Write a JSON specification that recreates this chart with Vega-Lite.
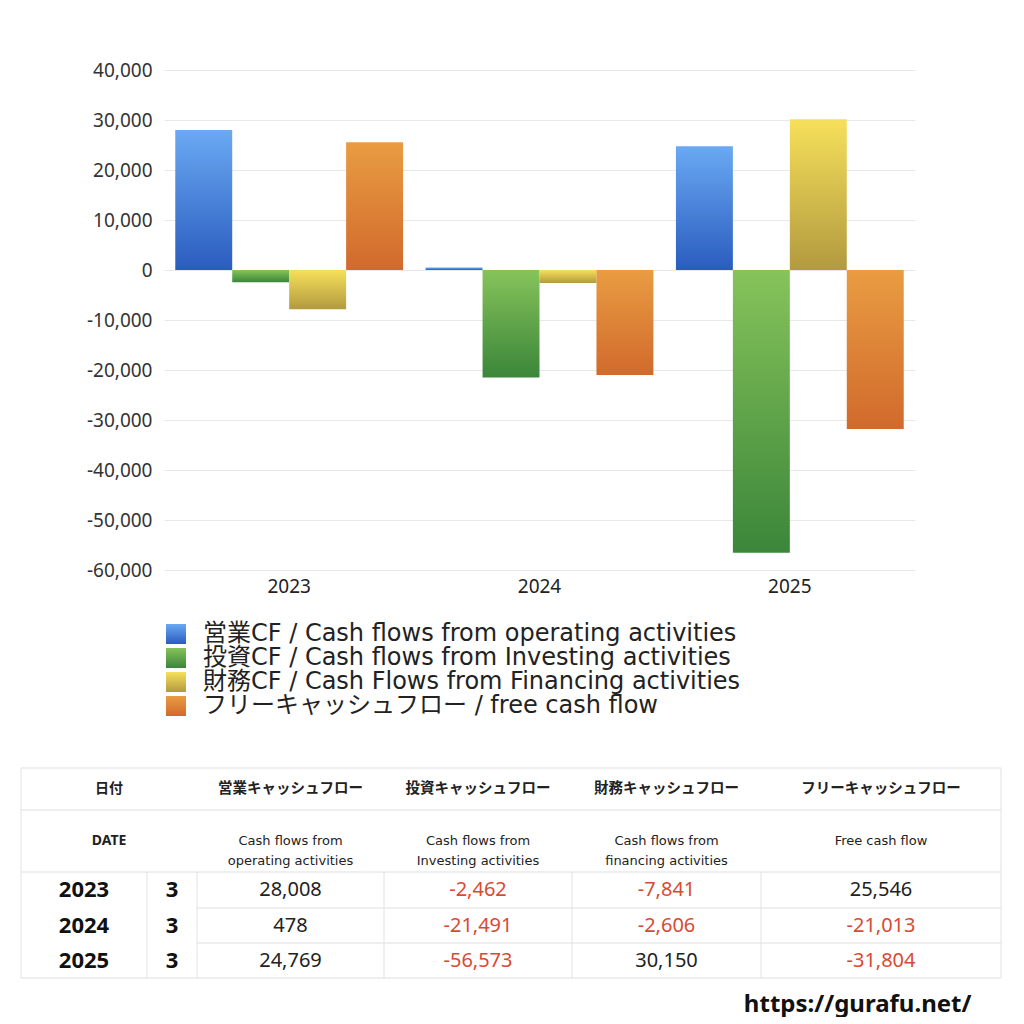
{
  "$schema": "https://vega.github.io/schema/vega-lite/v6.json",
  "padding": {"left": 20, "top": 60, "right": 0, "bottom": 0},
  "background": "#ffffff",
  "spacing": 24,
  "config": {
    "font": "Noto Sans, Noto Sans CJK JP",
    "view": {"stroke": "transparent"},
    "locale": {"number": {"decimal": ".", "thousands": ",", "grouping": [3], "currency": ["$", ""], "minus": "-"}}
  },
  "datasets": {
    "cf": [
      {"year": "2023", "k": "op", "v": 28008},
      {"year": "2023", "k": "inv", "v": -2462},
      {"year": "2023", "k": "fin", "v": -7841},
      {"year": "2023", "k": "free", "v": 25546},
      {"year": "2024", "k": "op", "v": 478},
      {"year": "2024", "k": "inv", "v": -21491},
      {"year": "2024", "k": "fin", "v": -2606},
      {"year": "2024", "k": "free", "v": -21013},
      {"year": "2025", "k": "op", "v": 24769},
      {"year": "2025", "k": "inv", "v": -56573},
      {"year": "2025", "k": "fin", "v": 30150},
      {"year": "2025", "k": "free", "v": -31804}
    ],
    "keys": [
      {"k": "op", "label": "営業CF / Cash flows from operating activities"},
      {"k": "inv", "label": "投資CF / Cash flows from Investing activities"},
      {"k": "fin", "label": "財務CF / Cash Flows from Financing activities"},
      {"k": "free", "label": "フリーキャッシュフロー / free cash flow"}
    ],
    "cells": [
      {"r": 0, "c": 0, "t": "日付", "kind": "span"},
      {"r": 1, "c": 0, "t": "DATE", "kind": "span"},
      {"r": 0, "c": 2, "t": "営業キャッシュフロー", "kind": "hdr"},
      {"r": 0, "c": 3, "t": "投資キャッシュフロー", "kind": "hdr"},
      {"r": 0, "c": 4, "t": "財務キャッシュフロー", "kind": "hdr"},
      {"r": 0, "c": 5, "t": "フリーキャッシュフロー", "kind": "hdr"},
      {"r": 1, "c": 2, "t": ["Cash flows from", "operating activities"], "kind": "sub"},
      {"r": 1, "c": 3, "t": ["Cash flows from", "Investing activities"], "kind": "sub"},
      {"r": 1, "c": 4, "t": ["Cash flows from", "financing activities"], "kind": "sub"},
      {"r": 1, "c": 5, "t": "Free cash flow", "kind": "sub"},
      {"r": 2, "c": 0, "t": "2023", "kind": "yr"},
      {"r": 3, "c": 0, "t": "2024", "kind": "yr"},
      {"r": 4, "c": 0, "t": "2025", "kind": "yr"},
      {"r": 2, "c": 1, "t": "3", "kind": "yr"},
      {"r": 3, "c": 1, "t": "3", "kind": "yr"},
      {"r": 4, "c": 1, "t": "3", "kind": "yr"}
    ],
    "vals": [
      {"r": 2, "c": 2, "v": 28008},
      {"r": 2, "c": 3, "v": -2462},
      {"r": 2, "c": 4, "v": -7841},
      {"r": 2, "c": 5, "v": 25546},
      {"r": 3, "c": 2, "v": 478},
      {"r": 3, "c": 3, "v": -21491},
      {"r": 3, "c": 4, "v": -2606},
      {"r": 3, "c": 5, "v": -21013},
      {"r": 4, "c": 2, "v": 24769},
      {"r": 4, "c": 3, "v": -56573},
      {"r": 4, "c": 4, "v": 30150},
      {"r": 4, "c": 5, "v": -31804}
    ],
    "hlines": [
      {"r": -0.5, "c": -0.5, "c2": 5.5},
      {"r": 0.5, "c": -0.5, "c2": 5.5},
      {"r": 1.5, "c": -0.5, "c2": 5.5},
      {"r": 2.5, "c": 1.5, "c2": 5.5},
      {"r": 3.5, "c": 1.5, "c2": 5.5},
      {"r": 4.5, "c": -0.5, "c2": 5.5}
    ],
    "vlines": [
      {"c": -0.5, "r": -0.5, "r2": 4.5},
      {"c": 0.5, "r": 1.5, "r2": 4.5},
      {"c": 1.5, "r": 1.5, "r2": 4.5},
      {"c": 2.5, "r": 1.5, "r2": 4.5},
      {"c": 3.5, "r": 1.5, "r2": 4.5},
      {"c": 4.5, "r": 1.5, "r2": 4.5},
      {"c": 5.5, "r": -0.5, "r2": 4.5}
    ]
  },
  "vconcat": [
    {
      "width": 751,
      "height": 500,
      "data": {"name": "cf"},
      "encoding": {
        "x": {
          "field": "year", "type": "nominal", "title": null,
          "scale": {"paddingInner": 0.09, "paddingOuter": 0.045},
          "axis": {"labelAngle": 0, "labelFontSize": 19, "labelColor": "#222", "labelPadding": 7, "ticks": false, "domain": false}
        },
        "xOffset": {"field": "k", "type": "nominal", "scale": {"domain": ["op", "inv", "fin", "free"], "paddingInner": 0, "paddingOuter": 0}},
        "y": {
          "field": "v", "type": "quantitative", "title": null,
          "scale": {"domain": [-60000, 40000], "nice": false},
          "axis": {"values": [-60000, -50000, -40000, -30000, -20000, -10000, 0, 10000, 20000, 30000, 40000], "labelOverlap": false, "format": ",d", "labelFontSize": 19, "labelColor": "#333", "labelPadding": 12, "ticks": false, "domain": false, "gridColor": "#e8e8e8", "minExtent": 143, "maxExtent": 143}
        }
      },
      "layer": [
        {
          "transform": [{"filter": "datum.k === 'op'"}],
          "mark": {"type": "bar", "color": {"gradient": "linear", "x1": 0, "y1": 0, "x2": 0, "y2": 1, "stops": [{"offset": 0, "color": "#6aa9f3"}, {"offset": 1, "color": "#2a5cbe"}]}}
        },
        {
          "transform": [{"filter": "datum.k === 'inv'"}],
          "mark": {"type": "bar", "color": {"gradient": "linear", "x1": 0, "y1": 0, "x2": 0, "y2": 1, "stops": [{"offset": 0, "color": "#86c35a"}, {"offset": 1, "color": "#3b863a"}]}}
        },
        {
          "transform": [{"filter": "datum.k === 'fin'"}],
          "mark": {"type": "bar", "color": {"gradient": "linear", "x1": 0, "y1": 0, "x2": 0, "y2": 1, "stops": [{"offset": 0, "color": "#f6e05a"}, {"offset": 1, "color": "#b29a3f"}]}}
        },
        {
          "transform": [{"filter": "datum.k === 'free'"}],
          "mark": {"type": "bar", "color": {"gradient": "linear", "x1": 0, "y1": 0, "x2": 0, "y2": 1, "stops": [{"offset": 0, "color": "#e99c42"}, {"offset": 1, "color": "#d16a2c"}]}}
        }
      ]
    },
    {
      "width": 600,
      "height": 114,
      "data": {"name": "keys"},
      "encoding": {
        "y": {
          "field": "k", "type": "nominal", "title": null,
          "scale": {"domain": ["op", "inv", "fin", "free", "pad"], "range": [0, 120], "paddingInner": 0, "paddingOuter": 0},
          "axis": {"labels": false, "ticks": false, "domain": false, "grid": false, "minExtent": 143, "maxExtent": 143}
        }
      },
      "layer": [
        {
          "transform": [{"filter": "datum.k === 'op'"}],
          "mark": {"type": "square", "size": 400, "x": 12, "opacity": 1, "color": {"gradient": "linear", "x1": 0, "y1": 0, "x2": 0, "y2": 1, "stops": [{"offset": 0, "color": "#6aa9f3"}, {"offset": 1, "color": "#2a5cbe"}]}}
        },
        {
          "transform": [{"filter": "datum.k === 'inv'"}],
          "mark": {"type": "square", "size": 400, "x": 12, "opacity": 1, "color": {"gradient": "linear", "x1": 0, "y1": 0, "x2": 0, "y2": 1, "stops": [{"offset": 0, "color": "#86c35a"}, {"offset": 1, "color": "#3b863a"}]}}
        },
        {
          "transform": [{"filter": "datum.k === 'fin'"}],
          "mark": {"type": "square", "size": 400, "x": 12, "opacity": 1, "color": {"gradient": "linear", "x1": 0, "y1": 0, "x2": 0, "y2": 1, "stops": [{"offset": 0, "color": "#f6e05a"}, {"offset": 1, "color": "#b29a3f"}]}}
        },
        {
          "transform": [{"filter": "datum.k === 'free'"}],
          "mark": {"type": "square", "size": 400, "x": 12, "opacity": 1, "color": {"gradient": "linear", "x1": 0, "y1": 0, "x2": 0, "y2": 1, "stops": [{"offset": 0, "color": "#e99c42"}, {"offset": 1, "color": "#d16a2c"}]}}
        },
        {
          "mark": {"type": "text", "x": 39, "align": "left", "baseline": "middle", "fontSize": 24, "font": "DejaVu Sans, Noto Sans CJK JP", "color": "#222"},
          "encoding": {"text": {"field": "label"}}
        }
      ]
    },
    {
      "width": 837,
      "height": 210,
      "title": {"text": "https://gurafu.net/", "orient": "bottom", "anchor": "end", "dx": -30, "offset": 14, "fontSize": 24, "fontWeight": "bold", "color": "#111"},
      "encoding": {
        "x": {"field": "c", "type": "quantitative", "axis": null, "scale": {"domain": [-0.5, 0.5, 1.5, 2.5, 3.5, 4.5, 5.5], "range": [-143, -17, 33, 220, 408, 597, 837], "nice": false, "zero": false}},
        "y": {"field": "r", "type": "quantitative", "axis": null, "scale": {"domain": [-0.5, 0.5, 1.5, 2.5, 3.5, 4.5], "range": [0, 42, 104, 140, 175, 210], "nice": false, "zero": false}}
      },
      "layer": [
        {
          "data": {"name": "hlines"},
          "mark": {"type": "rule", "color": "#dedede", "strokeWidth": 1},
          "encoding": {"x2": {"field": "c2"}}
        },
        {
          "data": {"name": "vlines"},
          "mark": {"type": "rule", "color": "#e2e2e2", "strokeWidth": 1},
          "encoding": {"y2": {"field": "r2"}}
        },
        {
          "data": {"name": "cells"},
          "transform": [{"filter": "datum.kind === 'span'"}],
          "mark": {"type": "text", "dx": 25, "fontSize": 14, "fontWeight": "bold", "color": "#222", "baseline": "middle"},
          "encoding": {"text": {"field": "t"}}
        },
        {
          "data": {"name": "cells"},
          "transform": [{"filter": "datum.kind === 'hdr'"}],
          "mark": {"type": "text", "fontSize": 14.5, "fontWeight": "bold", "color": "#222", "baseline": "middle"},
          "encoding": {"text": {"field": "t"}}
        },
        {
          "data": {"name": "cells"},
          "transform": [{"filter": "datum.kind === 'sub'"}],
          "mark": {"type": "text", "fontSize": 13, "font": "DejaVu Sans", "color": "#222", "baseline": "middle", "lineHeight": 20},
          "encoding": {"text": {"field": "t"}}
        },
        {
          "data": {"name": "cells"},
          "transform": [{"filter": "datum.kind === 'yr'"}],
          "mark": {"type": "text", "fontSize": 22, "fontWeight": "bold", "color": "#111", "baseline": "middle"},
          "encoding": {"text": {"field": "t"}}
        },
        {
          "data": {"name": "vals"},
          "mark": {"type": "text", "fontSize": 20, "baseline": "middle"},
          "encoding": {
            "text": {"field": "v", "type": "quantitative", "format": ",d"},
            "color": {"condition": {"test": "datum.v < 0", "value": "#d94a33"}, "value": "#222"}
          }
        }
      ]
    }
  ]
}
